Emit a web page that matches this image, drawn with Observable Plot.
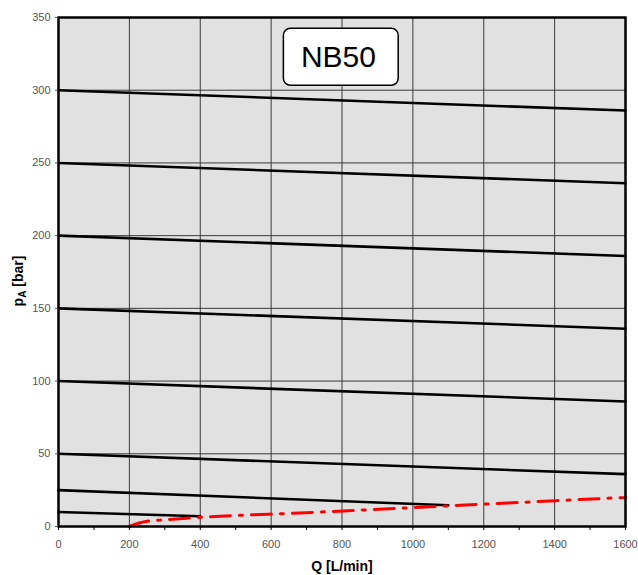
<!DOCTYPE html>
<html>
<head>
<meta charset="utf-8">
<script src="https://cdn.jsdelivr.net/npm/d3@7"></script>
<script src="https://cdn.jsdelivr.net/npm/@observablehq/plot@0.6"></script>
<style>
  html, body { margin: 0; padding: 0; background: #fff; }
  #chart svg { display: block; }
</style>
</head>
<body>
<div id="chart"></div>
<script>
// ---- Data ----
// Black pressure curves: set pressure, start/end flow and pressure
const curveNames = ["300", "250", "200", "150", "100", "50", "25", "10"];
const curveQStart = [0, 0, 0, 0, 0, 0, 0, 0];
const curvePStart = [300, 250, 200, 150, 100, 50, 25, 10];
const curveQEnd = [1600, 1600, 1600, 1600, 1600, 1600, 1100, 400];
const curvePEnd = [286, 236, 186, 136, 86, 36, 14.6, 7];

// Red dash-dot minimum pressure curve
const redQ = [200, 225, 250, 300, 400, 700, 1100, 1600];
const redP = [0, 2.2, 3.6, 4.6, 6.3, 9.5, 14.2, 20];

// Axis ticks and grid
const xTicks = [0, 200, 400, 600, 800, 1000, 1200, 1400, 1600];
const xMinorTicks = d3.range(0, 1601, 100);
const yTicks = [0, 50, 100, 150, 200, 250, 300, 350];
const xGrid = [200, 400, 600, 800, 1000, 1200, 1400];
const yGrid = [50, 100, 150, 200, 250, 300];

// Label box
const labelText = ["NB50"];
const labelBoxQ = [636, 960];
const labelBoxP = [303, 342.3];
const labelQ = [790];
const labelP = [322.5];

const xTitle = "Q [L/min]";

// ---- Build tables ----
const curves = curveNames.flatMap((name, i) => [
  {name, Q: curveQStart[i], p: curvePStart[i]},
  {name, Q: curveQEnd[i], p: curvePEnd[i]}
]);
const red = redQ.map((Q, i) => ({Q, p: redP[i]}));

const chart = Plot.plot({
  width: 638,
  height: 575,
  marginLeft: 58,
  marginRight: 13,
  marginTop: 17,
  marginBottom: 49,
  style: {fontFamily: "Arial, 'Liberation Sans', sans-serif", fontSize: "11px", background: "#fff"},
  x: {domain: [0, 1600]},
  y: {domain: [0, 350]},
  marks: [
    Plot.frame({fill: "#e1e1e1"}),
    Plot.ruleX(xGrid, {stroke: "#3a3a3a", strokeWidth: 1}),
    Plot.ruleY(yGrid, {stroke: "#3a3a3a", strokeWidth: 1}),
    Plot.line(curves, {x: "Q", y: "p", z: "name", stroke: "#000", strokeWidth: 2.6}),
    Plot.line(red, {x: "Q", y: "p", stroke: "#ff0000", strokeWidth: 3, strokeDasharray: "20,9,3,9", curve: "monotone-x"}),
    Plot.rect([0], {x1: () => labelBoxQ[0], x2: () => labelBoxQ[1], y1: () => labelBoxP[0], y2: () => labelBoxP[1], fill: "#fff", stroke: "#000", strokeWidth: 1.5, rx: 7}),
    Plot.text(labelText, {x: () => labelQ[0], y: () => labelP[0], text: d => d, fontSize: 30, fill: "#000"}),
    Plot.frame({stroke: "#000", strokeWidth: 2.5}),
    Plot.axisX(xTicks, {tickSize: 0, tickPadding: 14, color: "#555", label: null, fontSize: 11, tickFormat: d3.format("d")}),
    Plot.axisX(xMinorTicks, {tickSize: 4, text: null, label: null, stroke: "#000"}),
    Plot.axisY(yTicks, {tickSize: 3, tickPadding: 5, color: "#555", label: null, fontSize: 11, tickFormat: d3.format("d")}),
    Plot.text([xTitle], {frameAnchor: "bottom", lineAnchor: "bottom", dy: 44, text: d => d, fontWeight: "bold", fontSize: 14, fill: "#000"})
  ]
});

document.getElementById("chart").appendChild(chart);

// Y axis title with subscript
const svg = d3.select(chart);
const yTitle = svg.append("text")
  .attr("transform", "translate(23,281) rotate(-90)")
  .attr("text-anchor", "middle")
  .attr("font-family", "Arial, 'Liberation Sans', sans-serif")
  .attr("font-size", 14)
  .attr("font-weight", "bold")
  .attr("fill", "#000");
yTitle.append("tspan").text("p");
yTitle.append("tspan").attr("font-size", 10).attr("dy", 3).text("A");
yTitle.append("tspan").attr("dy", -3).text(" [bar]");
</script>
</body>
</html>
